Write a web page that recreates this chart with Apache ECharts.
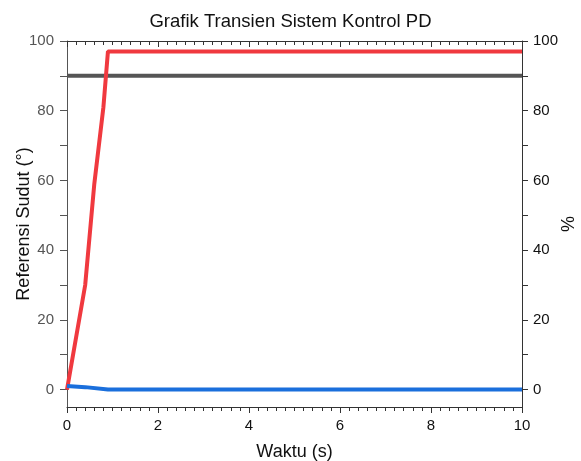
<!DOCTYPE html>
<html>
<head>
<meta charset="utf-8">
<script src="https://cdn.jsdelivr.net/npm/echarts@6/dist/echarts.min.js"></script>
<style>html,body{margin:0;padding:0;background:#fff;}#c{width:581px;height:461px;}</style>
</head>
<body>
<div id="c"></div>
<script>
const titleText = 'Grafik Transien Sistem Kontrol PD';
const xName = 'Waktu (s)';
const yLeftName = 'Referensi Sudut (°)';
const yRightName = '%';
const redTime  = [0, 0.4, 0.6, 0.8, 0.9, 10];
const redVals  = [0, 30, 59, 81, 97, 97];
const grayTime = [0, 10];
const grayVals = [90, 90];
const blueTime = [0, 0.4, 0.9, 10];
const blueVals = [1, 0.7, 0, 0];
const yLabelVals = [0, 20, 40, 60, 80, 100];
const yTickVals = [0, 10, 20, 30, 40, 50, 60, 70, 80, 90, 100];

const zip = (a, b) => a.map((v, i) => [v, b[i]]);
const font = 'Liberation Sans, Arial, sans-serif';
const chart = echarts.init(document.getElementById('c'));
const tickStyle = { color: '#333', width: 1 };
chart.setOption({
  animation: false,
  title: { text: titleText, left: 'center', top: 7, textStyle: { fontFamily: font, fontSize: 18.5, fontWeight: 'normal', color: '#111' } },
  grid: { left: 67, right: 59, top: 41, bottom: 54, containLabel: false, outerBoundsMode: 'none' },
  xAxis: [
    { type: 'value', min: 0, max: 10, interval: 2, position: 'bottom',
      name: xName, nameLocation: 'middle', nameGap: 36, nameMoveOverlap: false,
      nameTextStyle: { fontFamily: font, fontSize: 18, color: '#111' },
      axisLine: { onZero: false, lineStyle: tickStyle },
      axisTick: { inside: false, length: 6, lineStyle: tickStyle },
      minorTick: { show: true, splitNumber: 10, length: 4, lineStyle: tickStyle },
      axisLabel: { fontFamily: font, fontSize: 15, color: '#111', margin: 11 },
      splitLine: { show: false } },
    { type: 'value', min: 0, max: 10, interval: 2, position: 'top',
      axisLine: { onZero: false, lineStyle: tickStyle },
      axisTick: { inside: true, length: 6, lineStyle: tickStyle },
      minorTick: { show: true, splitNumber: 10, length: 4, lineStyle: tickStyle },
      axisLabel: { show: false }, splitLine: { show: false } }
  ],
  yAxis: [
    { type: 'value', min: -5, max: 100, position: 'left',
      name: yLeftName, nameLocation: 'middle', nameGap: 34, nameMoveOverlap: false,
      nameTextStyle: { fontFamily: font, fontSize: 18, color: '#111' },
      axisLine: { show: true, onZero: false, lineStyle: { color: '#555', width: 1 } },
      axisTick: { show: true, length: 7, customValues: yTickVals, lineStyle: { color: '#555' } },
      axisLabel: { fontFamily: font, fontSize: 15, color: '#555', margin: 13, customValues: yLabelVals },
      splitLine: { show: false } },
    { type: 'value', min: -5, max: 100, position: 'right',
      name: yRightName, nameLocation: 'middle', nameGap: 38, nameRotate: 90, nameMoveOverlap: false,
      nameTextStyle: { fontFamily: font, fontSize: 18, color: '#111' },
      axisLine: { show: true, onZero: false, lineStyle: tickStyle },
      axisTick: { show: true, length: 6, customValues: yTickVals, lineStyle: tickStyle },
      axisLabel: { fontFamily: font, fontSize: 15, color: '#111', margin: 11, customValues: yLabelVals },
      splitLine: { show: false } }
  ],
  series: [
    { type: 'line', data: zip(grayTime, grayVals), showSymbol: false, lineStyle: { color: '#555555', width: 4 }, z: 2 },
    { type: 'line', data: zip(redTime, redVals), showSymbol: false, lineStyle: { color: '#f0393f', width: 4 }, z: 3 },
    { type: 'line', data: zip(blueTime, blueVals), showSymbol: false, lineStyle: { color: '#1a6fdc', width: 4 }, z: 4 }
  ]
});
</script>
</body>
</html>
